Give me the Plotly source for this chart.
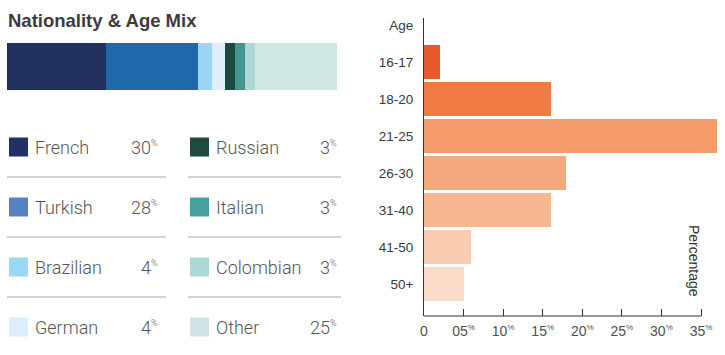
import plotly.graph_objects as go

# ---------------- data ----------------
NATIONALITIES = ["French", "Turkish", "Brazilian", "German", "Russian", "Italian", "Colombian", "Other"]
NAT_PCT = [30, 28, 4, 4, 3, 3, 3, 25]
NAT_BAR_COLORS = ["#21305f", "#1f69ab", "#9ad6f3", "#dfeefa", "#1d4a40", "#43958f", "#acd8d6", "#d0e6e3"]
NAT_SWATCH_COLORS = ["#22306a", "#5582c2", "#9ad8f4", "#dcedfb", "#1f4a40", "#47a09b", "#acd9d8", "#cfe4e3"]

AGE_HEADER = "Age"
AGE_GROUPS = ["16-17", "18-20", "21-25", "26-30", "31-40", "41-50", "50+"]
AGE_PCT = [2, 16, 37, 18, 16, 6, 5]
AGE_COLORS = ["#e9582b", "#f17b45", "#f59b6b", "#f6a97f", "#f7b891", "#f9cbb0", "#fbdcc9"]

PCT_SMALL = "<sup><span style='font-size:8px'>%</span></sup>"
X_TICKS = [0, 5, 10, 15, 20, 25, 30, 35]
X_TICKTEXT = ["0", "05" + PCT_SMALL, "10" + PCT_SMALL, "15" + PCT_SMALL, "20" + PCT_SMALL,
              "25" + PCT_SMALL, "30" + PCT_SMALL, "35" + PCT_SMALL]

TITLE = "Nationality & Age Mix"
X_TITLE = "Percentage"

W, H = 725, 355


def px(x):
    return x / W


def py(y):
    return 1 - y / H


fig = go.Figure()

# stacked nationality bar
for name, v, c in zip(NATIONALITIES, NAT_PCT, NAT_BAR_COLORS):
    fig.add_trace(go.Bar(x=[v], y=[0], orientation="h", width=1, name=name,
                         marker=dict(color=c, line=dict(width=0)),
                         xaxis="x2", yaxis="y2", showlegend=False, hoverinfo="skip"))

# age bars
fig.add_trace(go.Bar(x=AGE_PCT, y=AGE_GROUPS, orientation="h",
                     marker=dict(color=AGE_COLORS, line=dict(width=0)),
                     showlegend=False, hoverinfo="skip"))

shapes = []
annotations = []

# title
annotations.append(dict(text="<b>" + TITLE + "</b>", x=px(6), y=py(20), xref="paper", yref="paper",
                        xanchor="left", yanchor="middle", showarrow=False,
                        font=dict(family="Liberation Sans", size=18.5, color="#3c3c3c")))

# custom legend
row_y = [147, 207, 267, 327]
col_cfg = [dict(sw=9, tx=33, vx=160, l0=7, l1=166), dict(sw=190, tx=214, vx=339, l0=188, l1=341)]
for i, (name, v, c) in enumerate(zip(NATIONALITIES, NAT_PCT, NAT_SWATCH_COLORS)):
    col = col_cfg[i // 4]
    r = i % 4
    yc = row_y[r]
    shapes.append(dict(type="rect", xref="paper", yref="paper",
                       x0=px(col["sw"]), x1=px(col["sw"] + 19), y0=py(yc + 9.5), y1=py(yc - 9.5),
                       fillcolor=c, line=dict(width=0)))
    annotations.append(dict(text=name, x=px(col["tx"]), y=py(yc), xref="paper", yref="paper",
                            xanchor="left", yanchor="middle", showarrow=False,
                            font=dict(family="Roboto", size=18, color="#555555", weight=300)))
    annotations.append(dict(text=f"{v}<sup><span style='font-size:9px'>%</span></sup>",
                            x=px(col["vx"]), y=py(yc), xref="paper", yref="paper",
                            xanchor="right", yanchor="middle", showarrow=False,
                            font=dict(family="Roboto", size=18, color="#555555", weight=300)))
    if r < 3:
        ly = yc + 30
        shapes.append(dict(type="line", xref="paper", yref="paper",
                           x0=px(col["l0"]), x1=px(col["l1"]), y0=py(ly), y1=py(ly),
                           line=dict(color="#a8a8a8", width=1)))

# x axis line (ends at last tick)
shapes.append(dict(type="line", xref="x", yref="paper", x0=0, x1=X_TICKS[-1],
                   y0=py(316), y1=py(316), line=dict(color="#333333", width=1)))

# axis title
annotations.append(dict(text=X_TITLE, x=px(694), y=py(261), xref="paper", yref="paper",
                        textangle=90, xanchor="center", yanchor="middle", showarrow=False,
                        font=dict(family="Liberation Sans", size=14, color="#333333")))

x_max = (725 - 424) / ((701 - 424) / 35)
cats = [AGE_HEADER] + AGE_GROUPS

fig.update_layout(
    width=W, height=H, margin=dict(l=0, r=0, t=0, b=0),
    template="none", paper_bgcolor="white", plot_bgcolor="white",
    barmode="stack", bargap=0.08,
    shapes=shapes, annotations=annotations,
    xaxis=dict(domain=[px(424), 1], range=[0, x_max], tickvals=X_TICKS, ticktext=X_TICKTEXT,
               ticks="inside", ticklen=7, tickcolor="#333333", tickwidth=1,
               ticklabelstandoff=5,
               showline=False, showgrid=False, zeroline=False,
               tickfont=dict(family="Liberation Sans", size=14, color="#505050")),
    yaxis=dict(domain=[py(316), py(18)], type="category", categoryorder="array", categoryarray=cats,
               tickvals=cats, range=[(316 - 25) / 37, (18 - 25) / 37],
               showline=True, linecolor="#333333", linewidth=1, ticks="",
               ticklabelstandoff=7, showgrid=False, zeroline=False,
               tickfont=dict(family="Liberation Sans", size=13.5, color="#3a3a3a")),
    xaxis2=dict(domain=[px(7), px(337)], range=[0, 100], anchor="y2", visible=False, fixedrange=True),
    yaxis2=dict(domain=[py(90), py(43)], range=[-0.5, 0.5], anchor="x2", visible=False, fixedrange=True),
)

fig.write_html("out.html", config={"displayModeBar": False},
               post_script="document.body.style.margin='0';document.body.style.padding='0';")
